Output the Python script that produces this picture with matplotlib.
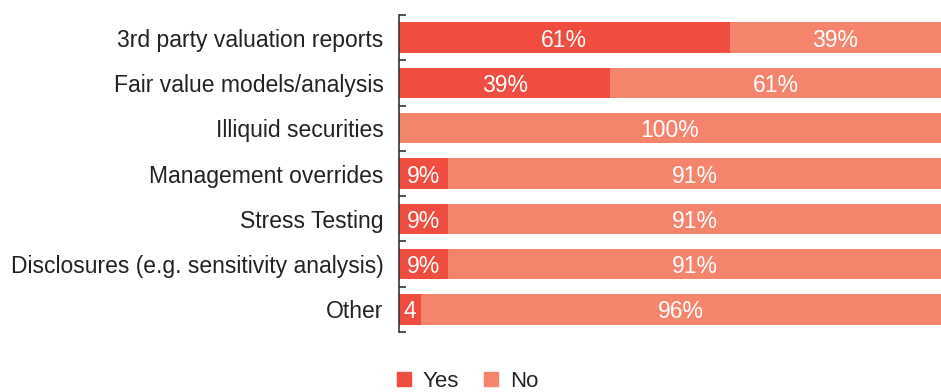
import matplotlib
matplotlib.use("Agg")
import matplotlib.pyplot as plt
from matplotlib.patches import Patch
import numpy as np

plt.rcParams['font.family'] = ['Liberation Sans', 'DejaVu Sans']

categories = [
    "3rd party valuation reports",
    "Fair value models/analysis",
    "Illiquid securities",
    "Management overrides",
    "Stress Testing",
    "Disclosures (e.g. sensitivity analysis)",
    "Other",
]
yes_vals = [61, 39, 0, 9, 9, 9, 4]
no_vals = [39, 61, 100, 91, 91, 91, 96]
yes_labels = ["61%", "39%", "", "9%", "9%", "9%", "4"]
no_labels = ["39%", "61%", "100%", "91%", "91%", "91%", "96%"]

YES_COLOR = "#EE4D3F"
NO_COLOR = "#F4846C"

fig = plt.figure(figsize=(9.41, 3.92), dpi=100)
ax = fig.add_axes([399 / 941, 1 - 332 / 392, 1 - 399 / 941, (332 - 15) / 392])

y = np.arange(len(categories))
h = 0.67
ax.barh(y, yes_vals, height=h, color=YES_COLOR, linewidth=0)
ax.barh(y, no_vals, left=yes_vals, height=h, color=NO_COLOR, linewidth=0)

for i in range(len(categories)):
    if yes_labels[i]:
        ax.text(yes_vals[i] / 2, y[i], yes_labels[i], ha="center",
                va="center_baseline", color="white", fontsize=16.5)
    ax.text(yes_vals[i] + no_vals[i] / 2, y[i], no_labels[i], ha="center",
            va="center_baseline", color="white", fontsize=16.5)

ax.set_xlim(0, 100)
ax.set_ylim(len(categories) - 0.5, -0.5)
ax.set_yticks(y)
ax.set_yticklabels(categories, fontsize=16.5, color="#222222")
ax.tick_params(axis="y", which="major", length=0, pad=11)
ax.set_yticks(np.arange(-0.5, len(categories)), minor=True)
ax.tick_params(axis="y", which="minor", direction="in", length=5, width=1.2,
               color="#333333")
ax.set_xticks([])
for s in ["top", "right", "bottom"]:
    ax.spines[s].set_visible(False)
ax.spines["left"].set_color("#333333")
ax.spines["left"].set_linewidth(1.2)

handles = [Patch(color=YES_COLOR, label="Yes"), Patch(color=NO_COLOR, label="No")]
fig.legend(handles=handles, loc="lower left", bbox_to_anchor=(397 / 941, 0.0),
           ncol=2, frameon=False, fontsize=16, handlelength=0.62, handleheight=0.62,
           handletextpad=0.55, columnspacing=1.1, borderpad=0, borderaxespad=0.0,
           labelcolor="#222222")

fig.savefig("out.png", dpi=100)
